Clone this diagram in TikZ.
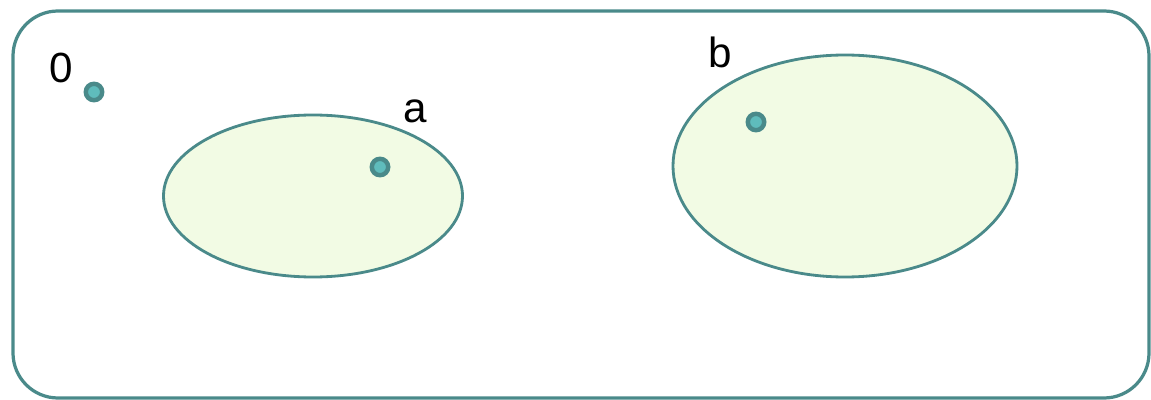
\documentclass[tikz,border=0pt]{standalone}
\usepackage{fontspec}
\setmainfont{Liberation Sans}
\usetikzlibrary{shapes.geometric}
\definecolor{tealline}{HTML}{4A8A8A}
\definecolor{tealdot}{HTML}{5FBCBC}
\definecolor{setfill}{HTML}{F2FBE4}

\begin{document}
\begin{tikzpicture}[x=0.025cm,y=-0.025cm]
\tikzset{
  frame/.style={draw=tealline,line width=2.3pt,rounded corners=32pt},
  setshape/.style={ellipse,draw=tealline,line width=2pt,fill=setfill,inner sep=0pt},
  point/.style={circle,draw=tealline,fill=tealdot,line width=3.2pt,minimum size=4.1mm,inner sep=0pt},
  tag/.style={font=\fontsize{30}{33}\selectfont,inner sep=0pt}
}
\useasboundingbox (0,0) rectangle (1151,400);
\draw[frame] (13,11) rectangle (1149,398);
\node[setshape,minimum width=299*0.025cm,minimum height=162*0.025cm] (set_a) at (313,196) {};
\node[setshape,minimum width=344*0.025cm,minimum height=222*0.025cm] (set_b) at (845,166) {};
\node[point] (p_0) at (94,92) {};
\node[point] (p_a) at (380,167) {};
\node[point] (p_b) at (756,122) {};
\node[tag] (t_0) at (61,68) {0};
\node[tag] (t_a) at (415,111) {a};
\node[tag] (t_b) at (720,52) {b};
\end{tikzpicture}
\end{document}
